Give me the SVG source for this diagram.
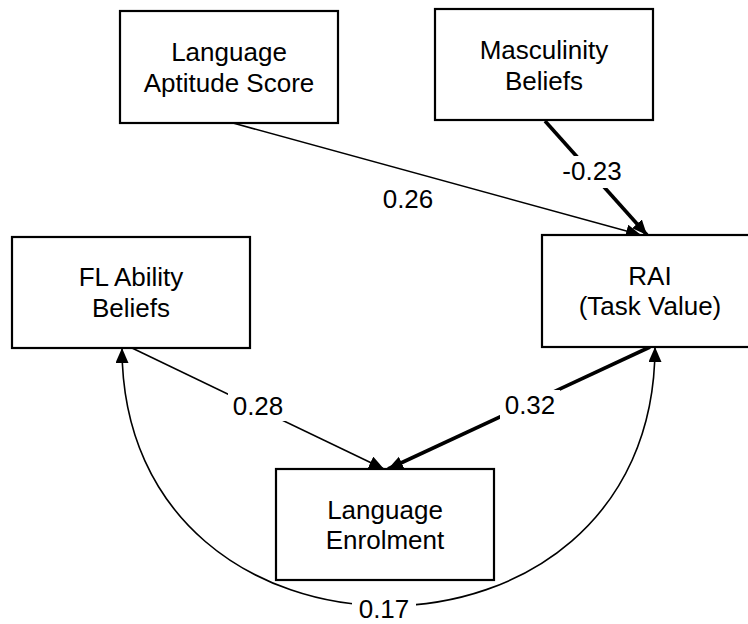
<svg xmlns="http://www.w3.org/2000/svg" width="748" height="624" viewBox="0 0 748 624">
<style>
.box{fill:#fff;stroke:#000;stroke-width:2.2}
.t{font-family:"Liberation Sans",Arial,sans-serif;font-size:26px;fill:#000;text-anchor:middle}
.thin{fill:none;stroke:#000;stroke-width:1.6}
.thick{fill:none;stroke:#000;stroke-width:3.6}
.bg{fill:#fff}
</style>
<defs>
<marker id="ah" markerUnits="userSpaceOnUse" markerWidth="16" markerHeight="14" refX="15" refY="6.5" orient="auto-start-reverse">
<path d="M0,0 L15,6.5 L0,13 z" fill="#000"/>
</marker>
</defs>
<rect width="748" height="624" fill="#fff"/>
<g id="connectors">
<path class="thin" d="M233,123 L641,235" marker-end="url(#ah)"/>
<path class="thick" d="M545,121 L647,235" marker-end="url(#ah)"/>
<path class="thin" d="M132,348 L384,469" marker-end="url(#ah)"/>
<path class="thick" d="M650,347 L388,469" marker-end="url(#ah)"/>
<path class="thin" d="M122,348 C122,692 655,692 655,347" marker-start="url(#ah)" marker-end="url(#ah)"/>
<g id="labels">
<text class="t" x="408" y="208">0.26</text>
<rect class="bg" x="556" y="156" width="72" height="32"/>
<text class="t" x="592" y="180">-0.23</text>
<rect class="bg" x="228" y="391" width="60" height="30"/>
<text class="t" x="258" y="415">0.28</text>
<rect class="bg" x="500" y="390" width="60" height="30"/>
<text class="t" x="530" y="414">0.32</text>
<rect class="bg" x="352" y="592" width="64" height="32"/>
<text class="t" x="384" y="618">0.17</text>
</g>
</g>
<g id="aptitude">
<rect class="box" x="120" y="11" width="218" height="112"/>
<text class="t" x="229" y="61">Language</text>
<text class="t" x="229" y="92">Aptitude Score</text>
</g>
<g id="masculinity">
<rect class="box" x="435" y="9" width="218" height="111"/>
<text class="t" x="544" y="59">Masculinity</text>
<text class="t" x="544" y="90">Beliefs</text>
</g>
<g id="flability">
<rect class="box" x="12" y="237" width="238" height="111"/>
<text class="t" x="131" y="286">FL Ability</text>
<text class="t" x="131" y="317">Beliefs</text>
</g>
<g id="rai">
<rect class="box" x="542" y="235" width="216" height="112"/>
<text class="t" x="650" y="285">RAI</text>
<text class="t" x="650" y="315">(Task Value)</text>
</g>
<g id="enrolment">
<rect class="box" x="276" y="469" width="218" height="111"/>
<text class="t" x="385" y="519">Language</text>
<text class="t" x="385" y="549">Enrolment</text>
</g>
</svg>
